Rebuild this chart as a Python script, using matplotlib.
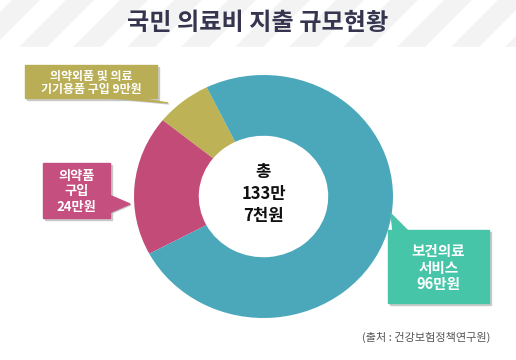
import numpy as np
import matplotlib
matplotlib.use("Agg")
import matplotlib.pyplot as plt
from matplotlib.patches import Rectangle, Polygon

plt.rcParams['font.family'] = ['Noto Sans CJK KR', 'DejaVu Sans']

title = "국민 의료비 지출 규모현황"
labels = ["의약외품 및 의료\n기기용품 구입 9만원", "의약품\n구입\n24만원", "보건의료\n서비스\n96만원"]
values = [9, 24, 96]
colors = ["#BDB255", "#C24B78", "#4BA8BB"]
box_colors = ["#B9AE55", "#C54F7E", "#47C5A9"]
center_text = "총\n133만\n7천원"
source = "(출처 : 건강보험정책연구원)"

W, H = 516, 360
fig = plt.figure(figsize=(W / 100, H / 100), dpi=100)

# overlay in pixel coords
ov = fig.add_axes([0, 0, 1, 1], zorder=2)
ov.set_xlim(0, W)
ov.set_ylim(H, 0)
ov.axis("off")
ov.patch.set_alpha(0)

# title banner with diagonal stripes
ov.add_patch(Rectangle((0, 0), W, 47, color="#F3F3F3", zorder=0))
for x0 in np.arange(-60, W + 60, 54):
    ov.add_patch(Polygon([(x0, 47), (x0 + 24, 47), (x0 + 71, 0), (x0 + 47, 0)],
                         closed=True, color="white", zorder=0.5))
ov.add_patch(Rectangle((0, 47), W, 8, color="white", zorder=0.6))
ov.text(W / 2, 23, title, ha="center", va="center", fontsize=17.4,
        fontweight="bold", color="#35354F", zorder=1)

# donut
cx0, cy0, cx1, cy1 = 134, 75, 393, 318
pax = fig.add_axes([cx0 / W, (H - cy1) / H, (cx1 - cx0) / W, (cy1 - cy0) / H], zorder=1)
pax.pie(values, colors=colors, startangle=116, counterclock=True,
        radius=1, wedgeprops=dict(width=0.5, linewidth=0))
pax.set_aspect("auto")
pax.set_xlim(-1, 1)
pax.set_ylim(-1, 1)
pax.axis("off")
pax.text(0, 0.02, center_text, ha="center", va="center", fontsize=12,
         fontweight="bold", color="#111111", linespacing=1.3)

# callout boxes (x, y, w, h) and pointer triangles
boxes = [(25, 65, 132, 33), (43, 163, 67, 55), (388, 230, 101, 73)]
tails = [
    [(103, 97), (130, 97), (168, 103)],
    [(109, 195), (109, 213), (130, 204)],
    [(393, 231), (408, 231), (391, 214)],
]
sizes = [8.6, 9.5, 10.5]
spacings = [1.0, 1.1, 1.05]
for (x, y, w, h), tail, c, lab, fs, ls in zip(boxes, tails, box_colors, labels, sizes, spacings):
    ov.add_patch(Rectangle((x + 2, y + 2), w, h, color="#BBBBBB", alpha=0.7, zorder=2))
    ov.add_patch(Polygon([(px + 1, py + 1) for px, py in tail], closed=True,
                         color="#BBBBBB", alpha=0.7, zorder=2))
    ov.add_patch(Rectangle((x, y), w, h, color=c, zorder=3))
    ov.add_patch(Polygon(tail, closed=True, color=c, zorder=3))
    ov.text(x + w / 2, y + h / 2 + 1, lab, ha="center", va="center", fontsize=fs,
            fontweight="bold", color="white", linespacing=ls, zorder=4)

ov.text(490, 337, source, ha="right", va="center", fontsize=8, color="#555555")

fig.savefig("out.png", dpi=100)
